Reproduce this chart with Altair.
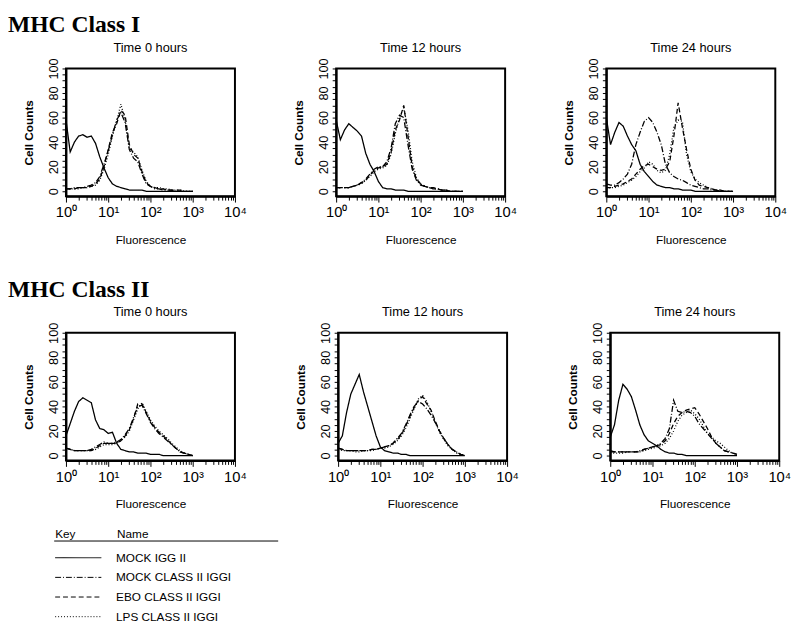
import altair as alt
import pandas as pd

SECTION_TITLES = ["MHC Class I", "MHC Class II"]
PANEL_TITLES = ["Time 0 hours", "Time 12 hours", "Time 24 hours"]
SERIES = ["MOCK IGG II", "MOCK CLASS II IGGI", "EBO CLASS II IGGI", "LPS CLASS II IGGI"]
DASHES = [[1, 0], [6, 2, 1, 2], [5, 3], [1, 2]]
X_TICK_LABELS = ["10⁰", "10¹", "10²", "10³", "10⁴"]
Y_TICK_LABELS = [0, 20, 40, 60, 80, 100]
LEGEND_HEADER = ["Key", "Name"]

# log10 fluorescence (channel bins)
LOG_FLUOR = [0.0, 0.1, 0.2, 0.3, 0.4, 0.5, 0.6, 0.7, 0.8, 0.9,
             1.0, 1.1, 1.2, 1.3, 1.4, 1.5, 1.6, 1.7, 1.8, 1.9,
             2.0, 2.1, 2.2, 2.3, 2.4, 2.5, 2.6, 2.7, 2.8, 2.9, 3.0]

# MHC Class I, 0 h
C1_T0_MOCK_IGG = [58, 32, 40, 45, 46, 44, 45, 39, 28, 19, 11, 6, 4, 3, 2, 1, 1, 1, 1, 0, 0, 0, 0, 0, 0, 0, 0, 0, 0, 0, 0]
C1_T0_MOCK_CLASS = [2, 2, 3, 3, 3, 4, 5, 7, 12, 22, 33, 46, 58, 64, 56, 34, 27, 24, 14, 6, 4, 2, 2, 1, 1, 1, 0, 0, 0, 0, 0]
C1_T0_EBO = [2, 2, 2, 3, 3, 3, 4, 6, 10, 20, 34, 48, 55, 66, 62, 38, 30, 27, 16, 7, 4, 3, 2, 2, 1, 1, 1, 1, 0, 0, 0]
C1_T0_LPS = [1, 2, 2, 2, 3, 3, 4, 5, 9, 18, 30, 45, 57, 71, 58, 35, 32, 28, 17, 8, 4, 3, 3, 2, 2, 1, 1, 1, 0, 0, 0]

# MHC Class I, 12 h
C1_T12_MOCK_IGG = [58, 42, 50, 55, 52, 49, 45, 31, 22, 16, 8, 3, 2, 2, 1, 1, 1, 0, 0, 0, 0, 0, 0, 0, 0, 0, 0, 0, 0, 0, 0]
C1_T12_MOCK_CLASS = [3, 3, 3, 3, 4, 5, 7, 10, 14, 18, 20, 20, 24, 35, 55, 62, 60, 38, 18, 9, 5, 4, 3, 2, 2, 1, 1, 0, 0, 0, 0]
C1_T12_EBO = [3, 3, 3, 3, 4, 5, 7, 9, 13, 17, 19, 20, 22, 32, 50, 58, 70, 45, 20, 10, 6, 4, 3, 3, 2, 1, 1, 0, 0, 0, 0]
C1_T12_LPS = [2, 3, 3, 3, 4, 5, 6, 9, 12, 16, 18, 19, 21, 30, 47, 60, 68, 50, 24, 11, 6, 4, 3, 2, 2, 1, 1, 0, 0, 0, 0]

# MHC Class I, 24 h
C1_T24_MOCK_IGG = [60, 38, 48, 56, 53, 45, 38, 33, 22, 16, 12, 8, 5, 4, 3, 3, 2, 2, 1, 1, 1, 0, 0, 0, 0, 0, 0, 0, 0, 0, 0]
C1_T24_MOCK_CLASS = [6, 5, 5, 7, 10, 14, 22, 38, 48, 57, 60, 56, 48, 38, 22, 15, 12, 10, 9, 7, 5, 4, 3, 2, 2, 1, 1, 0, 0, 0, 0]
C1_T24_EBO = [3, 3, 4, 5, 6, 8, 10, 14, 18, 21, 22, 20, 18, 17, 18, 24, 45, 72, 52, 34, 18, 9, 5, 4, 3, 2, 1, 1, 0, 0, 0]
C1_T24_LPS = [2, 3, 3, 4, 5, 7, 9, 12, 16, 19, 24, 22, 17, 15, 17, 30, 52, 58, 57, 30, 16, 10, 7, 5, 3, 2, 1, 1, 0, 0, 0]

# MHC Class II, 0 h
C2_T0_MOCK_IGG = [16, 26, 36, 44, 47, 45, 43, 29, 22, 21, 18, 19, 10, 5, 4, 3, 3, 2, 2, 2, 1, 1, 1, 0, 0, 0, 0, 0, 0, 0, 0]
C2_T0_MOCK_CLASS = [6, 5, 4, 4, 4, 4, 5, 7, 9, 11, 10, 10, 11, 13, 17, 22, 31, 40, 41, 34, 27, 22, 18, 15, 12, 9, 6, 3, 2, 1, 0]
C2_T0_EBO = [6, 5, 4, 4, 4, 4, 4, 6, 8, 10, 10, 10, 10, 12, 16, 21, 30, 42, 42, 35, 28, 23, 19, 16, 13, 9, 6, 3, 2, 1, 0]
C2_T0_LPS = [5, 5, 4, 4, 4, 4, 4, 5, 7, 9, 9, 9, 10, 12, 15, 20, 29, 38, 43, 36, 29, 24, 20, 17, 14, 10, 7, 4, 2, 1, 0]

# MHC Class II, 12 h
C2_T12_MOCK_IGG = [10, 16, 35, 50, 58, 66, 52, 40, 28, 16, 7, 4, 3, 2, 2, 1, 1, 0, 0, 0, 0, 0, 0, 0, 0, 0, 0, 0, 0, 0, 0]
C2_T12_MOCK_CLASS = [6, 5, 4, 4, 4, 4, 4, 4, 5, 5, 6, 7, 8, 10, 14, 18, 25, 33, 40, 44, 42, 38, 33, 27, 20, 14, 9, 5, 3, 1, 0]
C2_T12_EBO = [6, 5, 4, 4, 4, 4, 4, 4, 5, 5, 6, 7, 8, 10, 13, 17, 24, 32, 39, 45, 48, 42, 37, 28, 20, 14, 9, 5, 3, 1, 0]
C2_T12_LPS = [5, 4, 4, 4, 3, 3, 4, 4, 4, 5, 6, 6, 7, 9, 12, 16, 22, 30, 38, 46, 49, 44, 36, 27, 19, 13, 8, 5, 2, 1, 0]

# MHC Class II, 24 h
C2_T24_MOCK_IGG = [15, 25, 45, 58, 54, 48, 37, 25, 17, 12, 10, 8, 5, 3, 2, 2, 1, 1, 0, 0, 0, 0, 0, 0, 0, 0, 0, 0, 0, 0, 0]
C2_T24_MOCK_CLASS = [4, 3, 3, 3, 3, 3, 3, 4, 5, 6, 7, 8, 10, 14, 22, 45, 36, 35, 36, 35, 32, 26, 22, 18, 14, 10, 7, 4, 3, 2, 1]
C2_T24_EBO = [3, 3, 3, 3, 3, 3, 3, 3, 5, 6, 7, 8, 9, 12, 18, 26, 32, 35, 37, 38, 39, 34, 28, 22, 15, 10, 7, 4, 3, 2, 1]
C2_T24_LPS = [2, 2, 2, 2, 3, 3, 3, 3, 4, 5, 6, 7, 8, 10, 14, 20, 28, 33, 35, 37, 34, 30, 24, 18, 15, 12, 10, 7, 4, 2, 1]

PANELS = [
    [C1_T0_MOCK_IGG, C1_T0_MOCK_CLASS, C1_T0_EBO, C1_T0_LPS],
    [C1_T12_MOCK_IGG, C1_T12_MOCK_CLASS, C1_T12_EBO, C1_T12_LPS],
    [C1_T24_MOCK_IGG, C1_T24_MOCK_CLASS, C1_T24_EBO, C1_T24_LPS],
    [C2_T0_MOCK_IGG, C2_T0_MOCK_CLASS, C2_T0_EBO, C2_T0_LPS],
    [C2_T12_MOCK_IGG, C2_T12_MOCK_CLASS, C2_T12_EBO, C2_T12_LPS],
    [C2_T24_MOCK_IGG, C2_T24_MOCK_CLASS, C2_T24_EBO, C2_T24_LPS],
]

FONT = "Liberation Sans"
W, H = 172, 130

x_ticks = [k * 10 ** d for d in range(4) for k in range(1, 10)] + [10000]
decades = [1, 10, 100, 1000, 10000]
x_label_expr = " : ".join(
    f"datum.value == {v} ? '{lab}'" for v, lab in zip(decades, X_TICK_LABELS)
) + " : ''"
y_ticks = list(range(0, 101, 5))
y_label_expr = "indexof([" + ",".join(str(v) for v in Y_TICK_LABELS) + "], datum.value) >= 0 ? datum.label : ''"

dash_scale = alt.Scale(domain=SERIES, range=DASHES)


def make_panel(series_lists, title):
    rows = []
    for name, vals in zip(SERIES, series_lists):
        assert len(vals) == len(LOG_FLUOR)
        for lx, v in zip(LOG_FLUOR, vals):
            rows.append({"series": name, "fluor": 10 ** lx, "count": v})
    df = pd.DataFrame(rows)
    return alt.Chart(df).mark_line(color="black", strokeWidth=1.3, clip=True).encode(
        x=alt.X("fluor:Q",
                scale=alt.Scale(type="log", domain=[1, 10000], nice=False),
                axis=alt.Axis(values=x_ticks, labelExpr=x_label_expr, labelFontSize=15,
                              labelFlush=False, labelOverlap=False, labelPadding=3,
                              tickSize={"condition": {"test": "indexof([1,10,100,1000,10000], datum.value) >= 0", "value": 6}, "value": 4},
                              title="Fluorescence", titleFontSize=12, titleFontWeight="normal",
                              titlePadding=15)),
        y=alt.Y("count:Q",
                scale=alt.Scale(domain=[-4, 100], nice=False, zero=False),
                axis=alt.Axis(values=y_ticks, labelExpr=y_label_expr, labelAngle=270,
                              labelAlign="center", labelBaseline="bottom", labelFontSize=13,
                              labelPadding=2, tickSize=4,
                              title="Cell Counts", titleFontSize=12, titleFontWeight="bold",
                              titlePadding=12)),
        detail="series:N",
        strokeDash=alt.StrokeDash("series:N", scale=dash_scale, legend=None),
    ).properties(
        width=W, height=H,
        title=alt.TitleParams(title, fontSize=13, fontWeight="normal", font=FONT,
                              offset=3, anchor="middle", color="black"),
    )


p = [make_panel(PANELS[i], PANEL_TITLES[i % 3]) for i in range(6)]


def section_title(text):
    return alt.TitleParams(text, anchor="start", font="Liberation Serif", fontSize=24,
                           fontWeight="bold", color="black", offset=4, dx=-14)


row1 = alt.hconcat(p[0], p[1], p[2], spacing=45).properties(title=section_title(SECTION_TITLES[0]))
row2 = alt.hconcat(p[3], p[4], p[5], spacing=47).properties(title=section_title(SECTION_TITLES[1]))
rows = alt.vconcat(row1, row2, spacing=32)

# legend (x offsets are relative to the left edge of the first plot frame)
LX = -12
leg_df = pd.DataFrame({"series": SERIES})
ysc = alt.Y("series:N", sort=SERIES, axis=None,
            scale=alt.Scale(type="point", range=[37, 97], padding=0))
leg_lines = alt.Chart(leg_df).mark_rule(color="black", strokeWidth=1).encode(
    x=alt.value(LX + 1), x2=alt.value(LX + 48), y=ysc,
    strokeDash=alt.StrokeDash("series:N", scale=dash_scale, legend=None),
)
leg_text = alt.Chart(leg_df).mark_text(
    align="left", baseline="middle", font=FONT, fontSize=12, color="black"
).encode(x=alt.value(LX + 63), y=ysc, text="series:N")
hdr_key = alt.Chart(pd.DataFrame({"t": [LEGEND_HEADER[0]]})).mark_text(
    align="left", baseline="alphabetic", font=FONT, fontSize=12, color="black"
).encode(x=alt.value(LX + 1), y=alt.value(17), text="t:N")
hdr_name = alt.Chart(pd.DataFrame({"t": [LEGEND_HEADER[1]]})).mark_text(
    align="left", baseline="alphabetic", font=FONT, fontSize=12, color="black"
).encode(x=alt.value(LX + 64), y=alt.value(17), text="t:N")
underline = alt.Chart(pd.DataFrame({"t": [0]})).mark_rule(color="black", strokeWidth=1).encode(
    x=alt.value(LX), x2=alt.value(LX + 228), y=alt.value(20)
)
legend = alt.layer(underline, hdr_key, hdr_name, leg_lines, leg_text).properties(
    width=230, height=100, view=alt.ViewBackground(stroke="transparent")
)

chart = alt.vconcat(rows, legend, spacing=10).properties(
    padding=0, background="white"
).configure_view(stroke="black", strokeWidth=2).configure_axis(
    domainColor="black", domainWidth=2, tickColor="black", tickWidth=1,
    labelColor="black", titleColor="black", grid=False,
    labelFont=FONT, titleFont=FONT,
)

chart.save("out.html", embed_options={"renderer": "svg", "actions": False})
